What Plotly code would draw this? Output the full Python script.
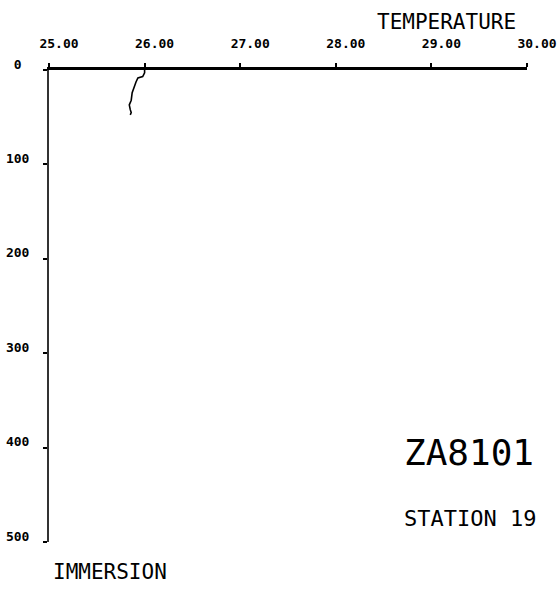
"""temperature profile for station 19 of cruise ZA8101, drawn like the old plotter sheet."""
import plotly.graph_objs as go

""" profile data read off the sheet """
temperature = [26.00, 26.00, 25.98, 25.93, 25.91, 25.89, 25.87, 25.86, 25.84, 25.85, 25.86, 25.85]
immersion = [0, 3, 7, 8.5, 12.7, 18, 24, 32, 37, 42, 45, 47.5]

temp_ticks = [25, 26, 27, 28, 29, 30]
temp_labels = ["25.00", "26.00", "27.00", "28.00", "29.00", "30.00"]
depth_ticks = [0, 100, 200, 300, 400, 500]
depth_labels = ["0\u00a0", "100", "200", "300", "400", "500"]

mono = "DejaVu Sans Mono"

fig = go.Figure()
fig.add_trace(
    go.Scatter(
        x=temperature,
        y=immersion,
        mode="lines",
        line=dict(color="black", width=1.6),
        showlegend=False,
        hoverinfo="skip",
    )
)

fig.update_layout(
    width=558,
    height=589,
    margin=dict(l=49, r=31, t=70, b=47),
    paper_bgcolor="white",
    plot_bgcolor="white",
    font=dict(family=mono, color="black"),
    xaxis=dict(
        range=[25, 30],
        side="top",
        showline=True,
        linecolor="black",
        linewidth=3,
        ticks="outside",
        ticklen=4,
        tickwidth=2,
        tickcolor="black",
        tickvals=temp_ticks,
        ticktext=temp_labels,
        ticklabelshift=10,
        ticklabelstandoff=10,
        ticklabeloverflow="allow",
        tickfont=dict(family=mono, size=13, color="black", weight="bold"),
        showgrid=False,
        zeroline=False,
        automargin=False,
    ),
    yaxis=dict(
        range=[500, 0],
        showline=True,
        linecolor="#333333",
        linewidth=2,
        ticks="outside",
        ticklen=4,
        tickwidth=2,
        tickcolor="black",
        tickvals=depth_ticks,
        ticktext=depth_labels,
        ticklabelshift=6,
        ticklabelstandoff=11,
        ticklabeloverflow="allow",
        tickfont=dict(family=mono, size=13, color="black", weight="bold"),
        showgrid=False,
        zeroline=False,
        automargin=False,
    ),
)

""" sheet texts """
texts = [
    ("TEMPERATURE", 0.832, 1.102, 21),
    ("IMMERSION", 0.128, -0.0625, 21),
    ("ZA8101", 0.879, 0.19, 36),
    ("STATION 19", 0.881, 0.0498, 22),
]
for text, x, y, size in texts:
    fig.add_annotation(
        text=text, x=x, y=y, xref="paper", yref="paper",
        xanchor="center", yanchor="middle", showarrow=False,
        font=dict(family=mono, size=size, color="black"),
    )

# page body has a default 8px margin, drop it so the sheet sits at the corner
fig.write_html(
    "out.html",
    config={"displayModeBar": False},
    post_script="document.body.style.margin='0';",
)
